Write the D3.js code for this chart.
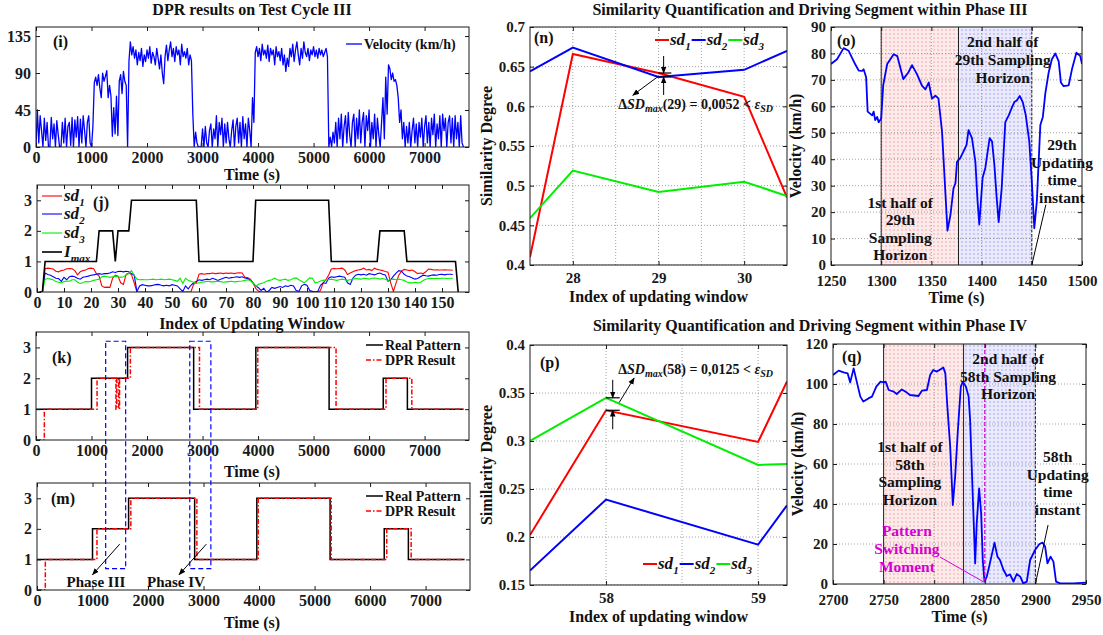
<!DOCTYPE html>
<html>
<head>
<meta charset="utf-8">
<script src="https://cdn.jsdelivr.net/npm/d3@7"></script>
<style>
  body { margin: 0; background: #fff; }
  svg text { font-family: 'Liberation Serif', 'Times New Roman', serif; font-weight: bold; }
</style>
</head>
<body>
<svg id="fig" width="1103" height="635"></svg>
<script>
// ---------- (i) velocity of test cycle III, 25 s samples, one array per driving stretch
const velStep = 25;
const velSegStart = [0, 1050, 1675, 2850, 3950, 5275, 6225, 6600];
const velUrban1 = [0,45,5,38,20,0,35,8,30,0, 0,36,10,28,0,32,15,0,0,30, 5,35,0,25,30,2,36,0,33,12, 37,0,34,5,38,20,0,30,38,5, 0,25];
const velSub1 = [78,85,75,88,72,60,90,80,86,93, 60,75,62,13,48,16,62,14,80,88, 65,92,80,75,0];
const velHwy1 = [105,128,112,122,108,118,100,115,105,120, 98,112,104,118,108,122,102,115,110,100, 120,108,95,112,90,77,110,124,105,118,
  128,110,120,104,122,112,118,100,125,110, 116,108,120,100,112,105,40];
const velUrban2 = [0,18,5,0,0,0,22,0,25,5, 0,20,28,0,22,10,38,0,30,15, 35,0,28,5,30,10,0,20,33,0, 25,35,5,30,0,37,10,28,0,35, 20,0,60,30];
const velHwy2 = [115,122,110,120,105,125,112,118,108,124, 104,120,112,118,100,122,110,116,105,120, 100,112,92,108,98,120,110,125,104,118,
  128,112,100,120,108,128,115,110,120,105, 118,112,122,110,118,108,120,112,118,110, 115,120,110];
const velUrban3 = [0,12,0,18,5,30,0,35,10,40, 0,25,38,5,42,15,0,30,40,0, 35,10,45,5,30,42,0,38,20,45, 0,30,10,40,0,35,15,0];
const velSub2 = [30,60,10,85,40,100,95,82,90,80,82,75,60,30,45];
const velUrban4 = [10,30,0,25,5,30,0,20,35,5, 28,0,30,12,35,0,25,38,5,30, 0,35,15,40,0,28,10,38,0,40, 20,35,0,30,38,5,35,0,38,10, 30,0,38,5,0];
const velSegs = [velUrban1, velSub1, velHwy1, velUrban2, velHwy2, velUrban3, velSub2, velUrban4];

// ---------- (j) similarity degrees per updating window (index 1..154) and I_max
const sd1 = [0,0,0.76,0.78,0.77,0.75,0.68,0.66,0.7,0.72, 0.76,0.77,0.76,0.7,0.56,0.66,0.7,0.72,0.77,0.78,
  0.76,0.6,0.52,0.2,0.15,0.16,0.15,0.45,0.55,0.52, 0.3,0.25,0.58,0.62,0.57,0.3,0,0,0,0,
  0,0,0,0,0,0,0,0,0,0, 0,0,0,0,0,0,0,0.25,0.3,0.58,
  0.6,0.58,0.6,0.6,0.62,0.6,0.61,0.62,0.6,0.62, 0.61,0.62,0.6,0.62,0.63,0.62,0.48,0.47,0.42,0.3,
  0.12,0.03,0,0,0,0,0,0,0,0, 0,0,0,0,0,0,0,0,0,0,
  0,0,0,0,0.05,0.3,0.4,0.55,0.75,0.77, 0.76,0.77,0.78,0.72,0.57,0.62,0.66,0.7,0.72,0.74,
  0.78,0.72,0.74,0.7,0.78,0.74,0.72,0.7,0.67,0.65, 0.3,0.02,0.3,0.55,0.68,0.74,0.72,0.7,0.72,0.66,
  0.6,0.62,0.6,0.66,0.75,0.74,0.72,0.73,0.72,0.72, 0.73,0.72,0.72,0.71];
const sd2 = [0,0,0.62,0.57,0.55,0.5,0.45,0.44,0.35,0.48, 0.4,0.5,0.52,0.5,0.45,0.42,0.48,0.5,0.52,0.55,
  0.56,0.58,0.6,0.58,0.6,0.6,0.62,0.66,0.64,0.67, 0.68,0.66,0.68,0.66,0.6,0.55,0.02,0.2,0.24,0.22,
  0.2,0.2,0.22,0.24,0.25,0.22,0.2,0.22,0.2,0.24, 0.22,0.2,0.1,0.02,0.2,0.1,0.22,0.3,0.34,0.4,
  0.38,0.4,0.42,0.4,0.45,0.42,0.38,0.42,0.45,0.48, 0.45,0.47,0.48,0.5,0.48,0.5,0.46,0.44,0.38,0.3,
  0.2,0.14,0.05,0.12,0,0.05,0.15,0.12,0.15,0.18, 0.15,0.2,0.18,0.22,0.2,0.05,0.02,0.2,0.25,0.22,
  0.05,0.02,0,0.02,0.22,0.3,0.28,0.45,0.5,0.48, 0.5,0.52,0.5,0.48,0.3,0.25,0.45,0.55,0.58,0.56,
  0.58,0.55,0.6,0.58,0.56,0.6,0.62,0.58,0.56,0.35, 0.4,0.52,0.62,0.7,0.68,0.58,0.52,0.5,0.46,0.42,
  0.44,0.5,0.55,0.53,0.52,0.55,0.56,0.55,0.57,0.58, 0.56,0.58,0.58,0.57];
const sd3 = [0,0,0.42,0.44,0.42,0.4,0.34,0.32,0.3,0.34, 0.36,0.35,0.4,0.4,0.32,0.28,0.3,0.34,0.33,0.35,
  0.38,0.4,0.42,0.5,0.52,0.5,0.48,0.5,0.52,0.5, 0.48,0.5,0.55,0.6,0.7,0.55,0.42,0.4,0.41,0.4,
  0.4,0.41,0.42,0.4,0.41,0.42,0.4,0.41,0.42,0.4, 0.38,0.35,0.45,0.28,0.45,0.38,0.35,0.32,0.28,0.3,
  0.32,0.33,0.35,0.34,0.33,0.34,0.35,0.34,0.32,0.33, 0.34,0.35,0.33,0.34,0.35,0.36,0.38,0.4,0.38,0.3,
  0.18,0.25,0.28,0.3,0.35,0.38,0.4,0.45,0.4,0.38, 0.4,0.42,0.38,0.4,0.45,0.46,0.4,0.35,0.3,0.38,
  0.46,0.45,0.3,0.32,0.36,0.38,0.4,0.4,0.42,0.4, 0.38,0.4,0.42,0.4,0.38,0.4,0.42,0.44,0.43,0.42,
  0.45,0.44,0.42,0.45,0.46,0.44,0.42,0.44,0.42,0.38, 0.4,0.42,0.4,0.42,0.4,0.38,0.33,0.3,0.3,0.32,
  0.3,0.31,0.38,0.42,0.44,0.45,0.44,0.45,0.44,0.45, 0.45,0.44,0.45,0.45];
const imaxIdx = [1,2,3,22,23,28,29,30,34,35,59,60,80,81,108,109,126,127,136,137,155,156];
const imaxVal = [0,0,1,1,2,2,1,2,2,3,3,1,1,3,3,1,1,2,2,1,1,0];

// ---------- (k)/(m) pattern recognition: change times and levels
const realT = [0,1000,1650,2840,3960,5280,6255,6690,7700];
const realL = [1,2,3,1,3,1,2,1,1];
const dprKT = [0,150,1100,1440,1455,1490,1505,1700,2945,3995,5405,6305,6770,7700];
const dprKL = [0,1,2,1,2,1,2,3,1,3,1,2,1,1];
const dprMT = [0,150,1080,1690,2880,3985,5300,6300,6740,7700];
const dprML = [0,1,2,3,1,3,1,2,1,1];
const phaseWin = [[1255,1615],[2770,3150]];

// ---------- (n) phase III similarity
const nIdx = [27.5,28,29,30,30.5];
const nSd1 = [0.41,0.666,0.642,0.612,0.485];
const nSd2 = [0.644,0.674,0.637,0.646,0.67];
const nSd3 = [0.459,0.519,0.492,0.505,0.487];

// ---------- (o) phase III driving segment
const oTime = [1250,1256,1262.6,1267.6,1274,1277.6,1281,1282.5,1285,1286.5,1291,1292.5,1294,1296,1297.5,1300,1302,1306,1312.4,1316,
  1322,1327,1330.7,1335.6,1340.6,1344,1347.3,1350.6,1354,1357,1360.6,1366,1369,1372,1374,1375.5,1378.8,1382,1385,1387,
  1390.4,1393.8,1396,1397.7,1401,1403.7,1408,1410.4,1412.7,1415,1417,1420,1423.6,1427,1429.6,1432.6,1435,1438,1441,1444,
  1447.5,1450,1452.5,1455,1458.5,1461,1463.5,1466.8,1470,1473.4,1476.8,1479,1481.7,1486.7,1490,1494.4,1498.3,1500];
const oVel = [76,77.8,82,81,76,73.5,73.4,74,71,58,56.6,58,54.8,56,54,55.4,68,76,79.7,79,
  70.3,72.8,75.6,72.2,67.8,66.4,69,62.9,64,63,50.4,13,19,29,31,39,40.5,43,45.4,51,
  48,39,24,15.3,33,36.7,48,46.7,38,25.5,16.2,29,54,56.6,59,61.6,62.2,63.9,61.6,56.6,
  46.7,31.7,13.9,24,52.9,56,65,72.8,77.8,80,77,69,67.6,67.9,74,80.3,79,76];
const oHalf = [1300,1377,1450];

// ---------- (p) phase IV similarity
const pIdx = [57.5,58,59,59.19];
const pSd1 = [0.202,0.332,0.299,0.362];
const pSd2 = [0.165,0.239,0.192,0.233];
const pSd3 = [0.30,0.345,0.275,0.276];

// ---------- (q) phase IV driving segment
const qTime = [2700,2705.6,2710.5,2714.5,2717,2720.4,2722.7,2727,2730,2735,2738.5,2742.8,2747,2750,2752,2755,2760,2763,2768,2773,
  2776,2784.5,2788,2792.8,2796,2799,2802.6,2806,2809,2811,2813,2815.8,2818.4,2820.7,2823.4,2826.3,2828.3,2831.3,2834,2835.5,
  2838,2840.5,2842,2844.4,2846.4,2848,2849.7,2852,2855,2859.6,2862.5,2865,2868.5,2871.7,2875,2878.3,2881.6,2885,2888,2891.5,
  2894.8,2899.7,2904,2907,2909.6,2911.9,2915,2917.8,2920.4,2924.4,2937.5,2950];
const qVel = [104.5,106.7,105.8,105.3,100.8,107.8,102.8,93.7,91.2,92.8,93.7,98.7,101.2,100.8,101.2,97,96.2,95,97.3,95.7,
  94.5,94,96.7,97,104.5,107,106.2,107.3,108.3,105.3,88.7,68.7,39.5,53.7,77,98.7,101.2,98.7,93.7,82,
  45.3,10.3,30.3,47.8,35.3,12,1.2,3.7,10.3,20.7,13.7,12,7,4,4.8,1.2,5,3.7,0.3,1.2,
  12,17,20,20.7,18.7,10.3,13.7,11.2,1.2,0.3,0.3,0.7];
const qHalf = [2750,2829,2900];
const qSwitch = 2850;

// ---------- helpers
const svg = d3.select('#fig');
const defs = svg.append('defs');
const RED = '#ff0000', BLUE = '#0000ff', GREEN = '#00ee00', INK = '#111';
let clipCount = 0;

defs.append('marker').attr('id', 'arr')
  .attr('viewBox', '0 0 10 10').attr('refX', 9).attr('refY', 5)
  .attr('markerWidth', 7).attr('markerHeight', 7).attr('orient', 'auto')
  .append('path').attr('d', 'M0,1 L10,5 L0,9 z').attr('fill', '#000');

function dotPattern(id, bg, dot) {
  const p = defs.append('pattern').attr('id', id)
    .attr('width', 4).attr('height', 4).attr('patternUnits', 'userSpaceOnUse');
  p.append('rect').attr('width', 4).attr('height', 4).attr('fill', bg);
  p.append('circle').attr('cx', 2).attr('cy', 2).attr('r', 0.8).attr('fill', dot);
}
dotPattern('shadeR', '#fdeaea', '#f0a0a0');
dotPattern('shadeB', '#eaeafc', '#a0a0f0');

function panel(b, xDom, yDom) {
  const x = d3.scaleLinear().domain(xDom).range([b.x0, b.x1]);
  const y = d3.scaleLinear().domain(yDom).range([b.y1, b.y0]);
  const id = 'clip' + (clipCount++);
  defs.append('clipPath').attr('id', id).append('rect')
    .attr('x', b.x0).attr('y', b.y0).attr('width', b.x1 - b.x0).attr('height', b.y1 - b.y0);
  const g = svg.append('g');
  const plot = g.append('g').attr('clip-path', `url(#${id})`);
  return {b, x, y, g, plot};
}

function grid(p, xv, yv) {
  const gg = p.plot.append('g').attr('stroke', '#8a8a8a').attr('stroke-width', 0.8).attr('stroke-dasharray', '1,2');
  gg.append('g').selectAll('line').data(xv).join('line')
    .attr('x1', d => p.x(d)).attr('x2', d => p.x(d)).attr('y1', p.b.y0).attr('y2', p.b.y1);
  gg.append('g').selectAll('line').data(yv).join('line')
    .attr('y1', d => p.y(d)).attr('y2', d => p.y(d)).attr('x1', p.b.x0).attr('x2', p.b.x1);
}

function axes(p, xv, yv, fx, fy, fs, padX = 5) {
  const {b, x, y, g} = p;
  const style = a => a.call(s => s.select('.domain').remove()).attr('font-size', fs).attr('color', '#1a1a1a');
  g.append('g').attr('transform', `translate(0,${b.y1})`)
    .call(d3.axisBottom(x).tickValues(xv).tickSize(-4).tickPadding(padX).tickFormat(fx)).call(style);
  g.append('g').attr('transform', `translate(0,${b.y0})`)
    .call(d3.axisTop(x).tickValues(xv).tickSize(-4).tickFormat('')).call(style);
  g.append('g').attr('transform', `translate(${b.x0},0)`)
    .call(d3.axisLeft(y).tickValues(yv).tickSize(-4).tickPadding(5).tickFormat(fy)).call(style);
  g.append('g').attr('transform', `translate(${b.x1},0)`)
    .call(d3.axisRight(y).tickValues(yv).tickSize(-4).tickFormat('')).call(style);
  g.append('rect').attr('x', b.x0).attr('y', b.y0)
    .attr('width', b.x1 - b.x0).attr('height', b.y1 - b.y0)
    .attr('fill', 'none').attr('stroke', '#1a1a1a').attr('stroke-width', 1);
}

function text(x, y, s, size, anchor = 'middle', color = INK) {
  return svg.append('text').attr('x', x).attr('y', y).attr('font-size', size)
    .attr('text-anchor', anchor).attr('fill', color).text(s);
}

function block(x, y, lines, size, lh, color = INK) {
  const t = svg.append('text').attr('x', x).attr('y', y).attr('font-size', size)
    .attr('text-anchor', 'middle').attr('fill', color);
  lines.forEach((s, i) => t.append('tspan').attr('x', x).attr('dy', i ? lh : 0).text(s));
  return t;
}

// "sd" with subscript, italic
function subLabel(x, y, base, sub, size) {
  const t = svg.append('text').attr('x', x).attr('y', y).attr('font-size', size)
    .attr('font-style', 'italic').attr('fill', INK);
  t.append('tspan').text(base);
  t.append('tspan').attr('dy', size * 0.28).attr('font-size', size * 0.65).text(sub);
  return t;
}

function ylabel(x, y, s, size) {
  return svg.append('text').attr('transform', `translate(${x},${y}) rotate(-90)`)
    .attr('font-size', size).attr('text-anchor', 'middle').attr('fill', INK).text(s);
}

const line = p => d3.line().x(d => p.x(d[0])).y(d => p.y(d[1]));
const zip = (a, b) => a.map((v, i) => [v, b[i]]);
const fmt = d3.format('~g');

// ---------- titles
text(252, 15, 'DPR results on Test Cycle III', 16);
text(810, 14.5, 'Similarity Quantification and Driving Segment within Phase III', 16);
text(810, 331, 'Similarity Quantification and Driving Segment within Phase IV', 16);

// ---------- (i)
const pI = panel({x0: 36, x1: 469, y0: 27, y1: 147}, [0, 7800], [0, 146]);
const velPts = velSegs.flatMap((s, k) => s.map((v, i) => [velSegStart[k] + i * velStep, v]));
pI.plot.append('path').datum(velPts).attr('d', line(pI)).attr('fill', 'none')
  .attr('stroke', BLUE).attr('stroke-width', 1.3).attr('stroke-linejoin', 'round');
axes(pI, d3.range(0, 7001, 1000), [0, 45, 90, 135], fmt, fmt, 16);
text(53, 47, '(i)', 16, 'start');
svg.append('line').attr('x1', 346).attr('x2', 362).attr('y1', 44).attr('y2', 44).attr('stroke', BLUE).attr('stroke-width', 1.3);
text(364, 49, 'Velocity (km/h)', 14, 'start');
text(252, 180, 'Time (s)', 16);

// ---------- (j)
const pJ = panel({x0: 37, x1: 469, y0: 185, y1: 292}, [0, 160], [0, 3.5]);
const jIdx = d3.range(1, sd1.length + 1);
[[sd1, RED], [sd2, BLUE], [sd3, GREEN]].forEach(([s, c]) => {
  pJ.plot.append('path').datum(zip(jIdx, s)).attr('d', line(pJ)).attr('fill', 'none')
    .attr('stroke', c).attr('stroke-width', 1.1);
});
pJ.plot.append('path').datum(zip(imaxIdx, imaxVal)).attr('d', line(pJ)).attr('fill', 'none')
  .attr('stroke', '#000').attr('stroke-width', 1.6);
axes(pJ, d3.range(0, 151, 10), [0, 1, 2, 3], fmt, fmt, 16);
[['sd', '1', RED], ['sd', '2', BLUE], ['sd', '3', GREEN], ['I', 'max', '#000']].forEach(([b, s, c], i) => {
  const yy = [196, 214, 233, 252][i];
  svg.append('line').attr('x1', 42).attr('x2', 62).attr('y1', yy).attr('y2', yy)
    .attr('stroke', c).attr('stroke-width', i === 3 ? 1.6 : 1.1);
  subLabel(64, yy + 5, b, s, 17);
});
text(93, 208, '(j)', 16, 'start');
text(252, 329, 'Index of Updating Window', 16);

// ---------- (k) and (m)
function patternPanel(b, dT, dL, legY) {
  const p = panel(b, [0, 7800], [0, 3.5]);
  const step = d3.line().curve(d3.curveStepAfter).x(d => p.x(d[0])).y(d => p.y(d[1]));
  p.plot.append('path').datum(zip(realT, realL)).attr('d', step).attr('fill', 'none')
    .attr('stroke', '#000').attr('stroke-width', 1.5);
  p.plot.append('path').datum(zip(dT, dL)).attr('d', step).attr('fill', 'none')
    .attr('stroke', RED).attr('stroke-width', 1.5).attr('stroke-dasharray', '5,2,1.5,2');
  axes(p, d3.range(0, 7001, 1000), [0, 1, 2, 3], fmt, fmt, 16);
  svg.append('line').attr('x1', 366).attr('x2', 383).attr('y1', legY).attr('y2', legY)
    .attr('stroke', '#000').attr('stroke-width', 1.5);
  svg.append('line').attr('x1', 366).attr('x2', 383).attr('y1', legY + 15).attr('y2', legY + 15)
    .attr('stroke', RED).attr('stroke-width', 1.5).attr('stroke-dasharray', '5,2,1.5,2');
  text(385, legY + 5, 'Real Pattern', 14, 'start');
  text(385, legY + 20, 'DPR Result', 14, 'start');
  return p;
}
const pK = patternPanel({x0: 36, x1: 469, y0: 332, y1: 440}, dprKT, dprKL, 345);
text(52, 363, '(k)', 16, 'start');
text(252, 477, 'Time (s)', 16);
const pM = patternPanel({x0: 37, x1: 470, y0: 483, y1: 590}, dprMT, dprML, 496);
text(51, 504, '(m)', 16, 'start');
text(252, 628, 'Time (s)', 16);

// dashed windows spanning both panels
phaseWin.forEach(([t0, t1]) => {
  svg.append('rect').attr('x', pK.x(t0)).attr('y', pK.y(3.2))
    .attr('width', pK.x(t1) - pK.x(t0)).attr('height', pM.y(0.7) - pK.y(3.2))
    .attr('fill', 'none').attr('stroke', BLUE).attr('stroke-width', 1.2).attr('stroke-dasharray', '5,3');
});
svg.append('line').attr('x1', pM.x(1490)).attr('y1', pM.y(1.5)).attr('x2', pM.x(1000)).attr('y2', pM.y(0.5))
  .attr('stroke', '#000').attr('stroke-width', 1).attr('marker-end', 'url(#arr)');
svg.append('line').attr('x1', pM.x(3050)).attr('y1', pM.y(1.5)).attr('x2', pM.x(2560)).attr('y2', pM.y(0.5))
  .attr('stroke', '#000').attr('stroke-width', 1).attr('marker-end', 'url(#arr)');
text(96, 587, 'Phase III', 15);
text(176, 587, 'Phase IV', 15);

// ---------- similarity panels (n), (p)
function simPanel(b, xDom, yDom, idx, s1, s2, s3, xg, yt) {
  const p = panel(b, xDom, yDom);
  grid(p, xg, yt);
  [[s1, RED], [s2, BLUE], [s3, GREEN]].forEach(([s, c]) => {
    p.plot.append('path').datum(zip(idx, s)).attr('d', line(p)).attr('fill', 'none')
      .attr('stroke', c).attr('stroke-width', 2);
  });
  axes(p, xg.filter(v => Number.isInteger(v)), yt, fmt, fmt, 15, 7);
  ylabel(b.x0 - 38, (b.y0 + b.y1) / 2, 'Similarity Degree', 16);
  text((b.x0 + b.x1) / 2, b.y1 + 37, 'Index of updating window', 16);
  return p;
}
function simLegend(x, y, gapLine) {
  let cx = x;
  [['1', RED], ['2', BLUE], ['3', GREEN]].forEach(([s, c]) => {
    svg.append('line').attr('x1', cx).attr('x2', cx + gapLine).attr('y1', y).attr('y2', y)
      .attr('stroke', c).attr('stroke-width', 2);
    const t = subLabel(cx + gapLine + 1, y + 5, 'sd', s, 17);
    cx += gapLine + 2 + t.node().getComputedTextLength();
  });
}
function deltaText(x, y, win, val) {
  const t = svg.append('text').attr('x', x).attr('y', y).attr('font-size', 14).attr('fill', INK);
  t.append('tspan').text('Δ');
  t.append('tspan').attr('font-style', 'italic').text('SD');
  t.append('tspan').attr('font-style', 'italic').attr('font-size', 10).attr('dy', 3).text('max');
  t.append('tspan').attr('dy', -3).text(`(${win}) = ${val} < `);
  t.append('tspan').attr('font-style', 'italic').text('ε');
  t.append('tspan').attr('font-style', 'italic').attr('font-size', 10).attr('dy', 3).text('SD');
}
function arrow(x1, y1, x2, y2) {
  svg.append('line').attr('x1', x1).attr('y1', y1).attr('x2', x2).attr('y2', y2)
    .attr('stroke', '#000').attr('stroke-width', 1).attr('marker-end', 'url(#arr)');
}
function tick(p, xa, xb, v) {
  svg.append('line').attr('x1', p.x(xa)).attr('x2', p.x(xb)).attr('y1', p.y(v)).attr('y2', p.y(v))
    .attr('stroke', '#000').attr('stroke-width', 1.2);
}

const pN = simPanel({x0: 530, x1: 787, y0: 27, y1: 265}, [27.5, 30.5], [0.4, 0.7],
  nIdx, nSd1, nSd2, nSd3, [28, 28.5, 29, 29.5, 30], d3.range(0, 7).map(i => 0.4 + i * 0.05));
text(534, 43, '(n)', 16, 'start');
simLegend(655, 40, 14);
tick(pN, 29, 29.15, nSd1[2]);
tick(pN, 29, 29.15, nSd2[2]);
arrow(pN.x(29.06), pN.y(nSd1[2]) - 17, pN.x(29.06), pN.y(nSd1[2]));
arrow(pN.x(29.06), pN.y(nSd2[2]) + 18, pN.x(29.06), pN.y(nSd2[2]));
arrow(pN.x(29.0), pN.y(0.638), pN.x(28.7), pN.y(0.614));
deltaText(pN.x(28.53), pN.y(0.597), 29, '0,0052');

const pP = simPanel({x0: 530, x1: 787, y0: 345, y1: 585}, [57.5, 59.19], [0.15, 0.4],
  pIdx, pSd1, pSd2, pSd3, [58, 58.5, 59], d3.range(0, 6).map(i => 0.15 + i * 0.05));
text(540, 368, '(p)', 16, 'start');
simLegend(643, 564, 14);
tick(pP, 58, 58.09, pSd3[1]);
tick(pP, 58, 58.09, pSd1[1]);
arrow(pP.x(58.044), pP.y(pSd3[1]) - 18, pP.x(58.044), pP.y(pSd3[1]));
arrow(pP.x(58.044), pP.y(pSd1[1]) + 19, pP.x(58.044), pP.y(pSd1[1]));
arrow(pP.x(58.086), pP.y(0.34), pP.x(58.185), pP.y(0.3656));
deltaText(pP.x(58.08), pP.y(0.37), 58, '0,0125');

// ---------- velocity segment panels (o), (q)
function segPanel(b, xDom, yDom, tt, vv, half, xt, yt) {
  const p = panel(b, xDom, yDom);
  p.plot.append('rect').attr('x', p.x(half[0])).attr('y', b.y0)
    .attr('width', p.x(half[1]) - p.x(half[0])).attr('height', b.y1 - b.y0).attr('fill', 'url(#shadeR)');
  p.plot.append('rect').attr('x', p.x(half[1])).attr('y', b.y0)
    .attr('width', p.x(half[2]) - p.x(half[1])).attr('height', b.y1 - b.y0).attr('fill', 'url(#shadeB)');
  grid(p, xt.slice(1, -1), yt.slice(1, -1));
  half.forEach((h, i) => {
    p.plot.append('line').attr('x1', p.x(h)).attr('x2', p.x(h)).attr('y1', b.y0).attr('y2', b.y1)
      .attr('stroke', '#222').attr('stroke-width', 1).attr('stroke-dasharray', i === 2 ? '3,1.5' : null);
  });
  p.plot.append('path').datum(zip(tt, vv)).attr('d', line(p)).attr('fill', 'none')
    .attr('stroke', BLUE).attr('stroke-width', 1.8).attr('stroke-linejoin', 'round');
  axes(p, xt, yt, fmt, fmt, 15, 10);
  ylabel(b.x0 - 30, (b.y0 + b.y1) / 2, 'Velocity (km/h)', 16);
  text((b.x0 + b.x1) / 2, b.y1 + 38, 'Time (s)', 16);
  return p;
}

const pO = segPanel({x0: 831, x1: 1082, y0: 27, y1: 265}, [1250, 1500], [0, 90], oTime, oVel, oHalf,
  d3.range(1250, 1501, 50), d3.range(0, 91, 10));
text(837, 46, '(o)', 16, 'start');
block(pO.x(1421), pO.y(82.5), ['2nd half of', '29th Sampling', 'Horizon'], 15.5, 18);
block(pO.x(1480), pO.y(43.3), ['29th', 'Updating', 'time', 'instant'], 15.5, 17.5);
block(pO.x(1319), pO.y(21.7), ['1st half of', '29th', 'Sampling', 'Horizon'], 15.5, 17.5);
svg.append('line').attr('x1', pO.x(1464)).attr('y1', pO.y(22.8)).attr('x2', pO.x(1450)).attr('y2', pO.y(0))
  .attr('stroke', '#000').attr('stroke-width', 1);

const pQ = segPanel({x0: 833, x1: 1086, y0: 344, y1: 584}, [2700, 2950], [0, 120], qTime, qVel, qHalf,
  d3.range(2700, 2951, 50), d3.range(0, 121, 20));
pQ.plot.append('line').attr('x1', pQ.x(qSwitch)).attr('x2', pQ.x(qSwitch)).attr('y1', pQ.b.y0).attr('y2', pQ.b.y1)
  .attr('stroke', '#d400d4').attr('stroke-width', 1.2).attr('stroke-dasharray', '4,2');
text(842, 362, '(q)', 16, 'start');
block(pQ.x(2873), pQ.y(110), ['2nd half of', '58th Sampling', 'Horizon'], 15.5, 17.5);
block(pQ.x(2776), pQ.y(66), ['1st half of', '58th', 'Sampling', 'Horizon'], 15.5, 17.5);
block(pQ.x(2922), pQ.y(61), ['58th', 'Updating', 'time', 'instant'], 15.5, 17.5);
svg.append('line').attr('x1', pQ.x(2912.5)).attr('y1', pQ.y(29.5)).attr('x2', pQ.x(2900)).attr('y2', pQ.y(0))
  .attr('stroke', '#000').attr('stroke-width', 1);
block(pQ.x(2773), pQ.y(24), ['Pattern', 'Switching', 'Moment'], 15.5, 18, '#d400d4');
svg.append('line').attr('x1', pQ.x(2805.7)).attr('y1', pQ.y(13.5)).attr('x2', pQ.x(2849)).attr('y2', pQ.y(1))
  .attr('stroke', '#d400d4').attr('stroke-width', 1);
</script>
</body>
</html>
